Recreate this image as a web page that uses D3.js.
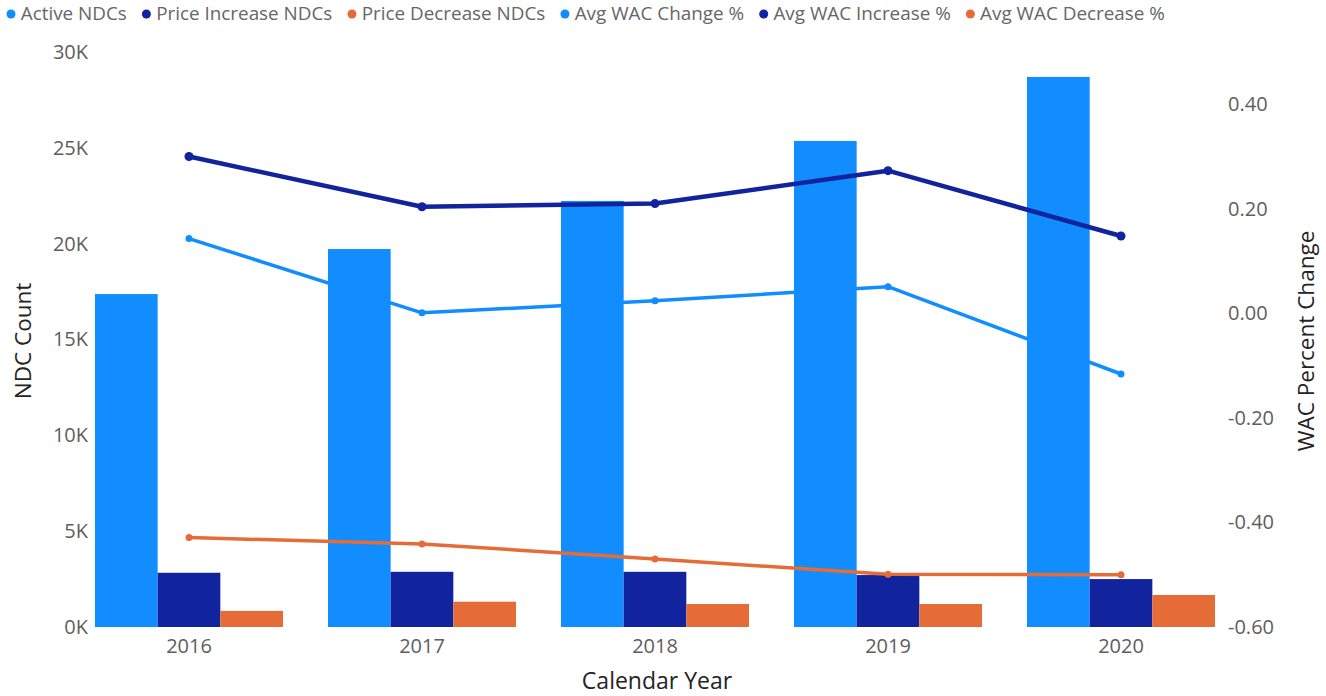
<!DOCTYPE html>
<html>
<head>
<meta charset="utf-8">
<title>NDC Count and WAC Percent Change</title>
<script src="https://cdn.jsdelivr.net/npm/d3@7"></script>
<style>
  body { margin: 0; background: #fff; }
  svg { display: block; font-family: "Open Sans", "Noto Sans", sans-serif; }
</style>
</head>
<body>
<div id="chart"></div>
<script>
// data
var years = ["2016", "2017", "2018", "2019", "2020"];
var activeNdcs = [17370, 19720, 22230, 25360, 28700];
var priceIncreaseNdcs = [2830, 2880, 2880, 2710, 2500];
var priceDecreaseNdcs = [840, 1320, 1200, 1200, 1670];
var avgWacChange = [0.143, 0.001, 0.024, 0.051, -0.116];
var avgWacIncrease = [0.300, 0.204, 0.210, 0.273, 0.148];
var avgWacDecrease = [-0.429, -0.441, -0.470, -0.499, -0.500];
var leftTicks = [0, 5000, 10000, 15000, 20000, 25000, 30000];
var rightTicks = [-0.6, -0.4, -0.2, 0, 0.2, 0.4];

var barSeries = [
  { name: "Active NDCs", values: activeNdcs, color: "#118DFF" },
  { name: "Price Increase NDCs", values: priceIncreaseNdcs, color: "#12239E" },
  { name: "Price Decrease NDCs", values: priceDecreaseNdcs, color: "#E66C37" }
];
var lineSeries = [
  { name: "Avg WAC Change %", values: avgWacChange, color: "#118DFF", width: 3.5, r: 3.5 },
  { name: "Avg WAC Increase %", values: avgWacIncrease, color: "#12239E", width: 4.5, r: 4.5 },
  { name: "Avg WAC Decrease %", values: avgWacDecrease, color: "#E66C37", width: 3.5, r: 3.5 }
];

var W = 1326, H = 696;
var plotTop = 52, plotBottom = 627;

var svg = d3.select("#chart").append("svg")
  .attr("width", W).attr("height", H);

var x = d3.scaleBand().domain(years)
  .range([72.5, 1237.5])
  .paddingInner(0.193).paddingOuter(0.0965);
var xs = d3.scaleBand().domain(barSeries.map(function(s) { return s.name; }))
  .range([0, x.bandwidth()]).padding(0);

var yL = d3.scaleLinear().domain([0, 30000]).range([plotBottom, plotTop]);
var yR = d3.scaleLinear().domain([-0.6, 0.5]).range([plotBottom, plotTop]);

// bars
var groups = svg.append("g").selectAll("g")
  .data(years).enter().append("g")
  .attr("transform", function(d) { return "translate(" + x(d) + ",0)"; });

groups.selectAll("rect")
  .data(function(d, i) {
    return barSeries.map(function(s) { return { name: s.name, color: s.color, v: s.values[i] }; });
  })
  .enter().append("rect")
  .attr("x", function(d) { return xs(d.name); })
  .attr("width", xs.bandwidth())
  .attr("y", function(d) { return yL(d.v); })
  .attr("height", function(d) { return plotBottom - yL(d.v); })
  .attr("fill", function(d) { return d.color; });

// lines
var cx = function(d, i) { return x(years[i]) + x.bandwidth() / 2; };
var line = d3.line().x(cx).y(function(d) { return yR(d); });

lineSeries.forEach(function(s) {
  svg.append("path")
    .datum(s.values)
    .attr("d", line)
    .attr("fill", "none")
    .attr("stroke", s.color)
    .attr("stroke-width", s.width)
    .attr("stroke-linejoin", "round");
  svg.append("g").selectAll("circle")
    .data(s.values).enter().append("circle")
    .attr("cx", cx)
    .attr("cy", function(d) { return yR(d); })
    .attr("r", s.r)
    .attr("fill", s.color);
});

// axes
var fmtR = d3.formatLocale({ decimal: ".", thousands: ",", grouping: [3], currency: ["", ""], minus: "-" }).format(".2f");

var axL = svg.append("g").attr("transform", "translate(90,0)")
  .call(d3.axisLeft(yL).tickValues(leftTicks).tickSize(0).tickPadding(2)
    .tickFormat(function(d) { return (d / 1000) + "K"; }));
var axR = svg.append("g").attr("transform", "translate(1226,0)")
  .call(d3.axisRight(yR).tickValues(rightTicks).tickSize(0).tickPadding(2)
    .tickFormat(fmtR));
var axB = svg.append("g").attr("transform", "translate(0," + plotBottom + ")")
  .call(d3.axisBottom(x).tickSize(0).tickPadding(12));

[axL, axR, axB].forEach(function(a) {
  a.select(".domain").remove();
  a.selectAll("text")
    .attr("font-family", "'Open Sans', sans-serif")
    .attr("font-size", 20)
    .attr("fill", "#605E5C");
});

// axis titles
svg.append("text")
  .attr("transform", "translate(31,341) rotate(-90)")
  .attr("text-anchor", "middle")
  .attr("font-size", 22.5)
  .attr("fill", "#252423")
  .text("NDC Count");
svg.append("text")
  .attr("transform", "translate(1314,341) rotate(-90)")
  .attr("text-anchor", "middle")
  .attr("font-size", 22.5)
  .attr("fill", "#252423")
  .text("WAC Percent Change");
svg.append("text")
  .attr("x", 657).attr("y", 689)
  .attr("text-anchor", "middle")
  .attr("font-size", 23)
  .attr("fill", "#252423")
  .text("Calendar Year");

// legend: lay out at a trial size, then size the font to the reference span
var legendItems = barSeries.concat(lineSeries);
var leg = svg.append("g");
var legStart = 11, legEnd = 1165, baseSize = 15.5;
var lx = legStart, pos = [];
var texts = legendItems.map(function(s) {
  var t = leg.append("text")
    .attr("y", 20)
    .attr("font-size", baseSize)
    .attr("fill", "#666666")
    .text(s.name);
  pos.push(lx);
  lx += 8 + t.node().getComputedTextLength() + 16;
  return t;
});
var k = (legEnd - legStart) / (lx - 16 - legStart);
legendItems.forEach(function(s, i) {
  var px = legStart + (pos[i] - legStart) * k;
  leg.append("circle").attr("cx", px).attr("cy", 14).attr("r", 4.5).attr("fill", s.color);
  texts[i].attr("x", px + 8 * k).attr("font-size", baseSize * k);
});
</script>
</body>
</html>
